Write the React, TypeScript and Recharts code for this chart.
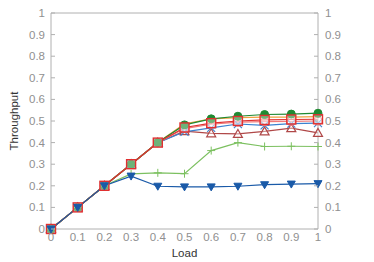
import React from 'react'
import { LineChart, Line, XAxis, YAxis, ReferenceLine } from 'recharts'

const loads = [0, 0.1, 0.2, 0.3, 0.4, 0.5, 0.6, 0.7, 0.8, 0.9, 1]
const yTicks = [0, 0.1, 0.2, 0.3, 0.4, 0.5, 0.6, 0.7, 0.8, 0.9, 1]

const greenCircle = [0, 0.1, 0.2, 0.3, 0.4, 0.482, 0.51, 0.522, 0.53, 0.532, 0.536]
const orangeLine = [0, 0.1, 0.2, 0.3, 0.4, 0.487, 0.51, 0.516, 0.518, 0.518, 0.52]
const redSquare = [0, 0.1, 0.2, 0.3, 0.4, 0.47, 0.49, 0.5, 0.505, 0.507, 0.508]
const pinkCircle = [0, 0.1, 0.2, 0.3, 0.4, 0.465, 0.485, 0.495, 0.497, 0.498, 0.5]
const blueStar = [0, 0.1, 0.2, 0.3, 0.4, 0.45, 0.468, 0.486, 0.48, 0.488, 0.49]
const brownTriangle = [0, 0.1, 0.2, 0.3, 0.4, 0.453, 0.443, 0.44, 0.452, 0.467, 0.445]
const greenPlus = [0, 0.1, 0.2, 0.255, 0.26, 0.256, 0.363, 0.4, 0.382, 0.383, 0.382]
const navyTriangle = [0, 0.1, 0.2, 0.245, 0.198, 0.195, 0.195, 0.198, 0.205, 0.208, 0.21]

const data = loads.map((load, i) => ({
  load,
  greenCircle: greenCircle[i],
  orangeLine: orangeLine[i],
  redSquare: redSquare[i],
  pinkCircle: pinkCircle[i],
  blueStar: blueStar[i],
  brownTriangle: brownTriangle[i],
  greenPlus: greenPlus[i],
  navyTriangle: navyTriangle[i]
}))

const FONT = '"Liberation Sans", Arial, sans-serif'
const AXIS = '#b0b0b0'
const TICK = '#909090'

type Shape = 'circle' | 'openCircle' | 'square' | 'star' | 'triangle' | 'plus' | 'down' | 'none'

function makeDot(shape: Shape, color: string) {
  return (p: any) => {
    const { cx, cy, key } = p
    if (cx == null || cy == null) return <g key={key} />
    switch (shape) {
      case 'circle':
        return <circle key={key} cx={cx} cy={cy} r={4} fill={color} stroke={color} />
      case 'openCircle':
        return <circle key={key} cx={cx} cy={cy} r={4} fill="#fff" fillOpacity={0.3} stroke={color} strokeWidth={1.2} />
      case 'square':
        return <rect key={key} x={cx - 4.5} y={cy - 4.5} width={9} height={9} fill="#fff" fillOpacity={0.35} stroke={color} strokeWidth={1.4} />
      case 'star':
        return (
          <g key={key} stroke={color} strokeWidth={1.1}>
            <line x1={cx - 4} y1={cy - 4} x2={cx + 4} y2={cy + 4} />
            <line x1={cx - 4} y1={cy + 4} x2={cx + 4} y2={cy - 4} />
            <line x1={cx - 4.5} y1={cy} x2={cx + 4.5} y2={cy} />
          </g>
        )
      case 'triangle':
        return <polygon key={key} points={`${cx},${cy - 4.5} ${cx - 4.5},${cy + 3.5} ${cx + 4.5},${cy + 3.5}`} fill="#fff" fillOpacity={0.4} stroke={color} strokeWidth={1.2} />
      case 'plus':
        return (
          <g key={key} stroke={color} strokeWidth={1}>
            <line x1={cx - 4} y1={cy} x2={cx + 4} y2={cy} />
            <line x1={cx} y1={cy - 4} x2={cx} y2={cy + 4} />
          </g>
        )
      case 'down':
        return <polygon key={key} points={`${cx},${cy + 4} ${cx - 4},${cy - 3} ${cx + 4},${cy - 3}`} fill={color} stroke={color} />
      default:
        return <g key={key} />
    }
  }
}

const fmt = (v: number) => (v === 0 || v === 1 ? String(v) : v.toFixed(1))

function LeftTick(props: any) {
  const { x, y, payload } = props
  return (
    <g>
      <line x1={x} y1={y} x2={x + 4} y2={y} stroke={AXIS} />
      <text x={x - 6} y={y} dy={4} textAnchor="end" fill={TICK} fontSize={11.5} fontFamily={FONT}>
        {fmt(payload.value)}
      </text>
    </g>
  )
}

function RightTick(props: any) {
  const { x, y, payload } = props
  return (
    <g>
      <line x1={x} y1={y} x2={x - 4} y2={y} stroke={AXIS} />
      <text x={x + 7} y={y} dy={4} textAnchor="start" fill={TICK} fontSize={11.5} fontFamily={FONT}>
        {fmt(payload.value)}
      </text>
    </g>
  )
}

function YLabel(props: any) {
  const vb = props.viewBox || { x: 0, y: 0, height: 0 }
  const cx = vb.x + 14
  const cy = vb.y + vb.height / 2
  return (
    <text x={cx} y={cy} transform={`rotate(-90, ${cx}, ${cy})`} textAnchor="middle" dy={4} fill="#333" fontSize={11.5} fontFamily={FONT}>
      Throughput
    </text>
  )
}

const series: { key: string; color: string; shape: Shape; axis: string }[] = [
  { key: 'brownTriangle', color: '#b04848', shape: 'triangle', axis: 'left' },
  { key: 'blueStar', color: '#3a82d0', shape: 'star', axis: 'left' },
  { key: 'pinkCircle', color: '#f07878', shape: 'openCircle', axis: 'left' },
  { key: 'orangeLine', color: '#f0a040', shape: 'none', axis: 'right' },
  { key: 'greenCircle', color: '#1f8a32', shape: 'circle', axis: 'left' },
  { key: 'greenPlus', color: '#7cc060', shape: 'plus', axis: 'left' },
  { key: 'redSquare', color: '#e03030', shape: 'square', axis: 'left' },
  { key: 'navyTriangle', color: '#1a5aa8', shape: 'down', axis: 'left' }
]

export default function App() {
  return (
    <div style={{ position: 'absolute', left: 0, top: 0, width: 374, height: 262, background: '#fff' }}>
      <LineChart width={374} height={262} data={data} margin={{ top: 13, right: 0, bottom: 0, left: 0 }}>
        <XAxis
          dataKey="load"
          type="number"
          domain={[0, 1]}
          ticks={loads}
          interval={0}
          tickFormatter={fmt}
          height={33}
          tickSize={0}
          tickMargin={4}
          stroke={AXIS}
          tick={{ fill: TICK, fontSize: 11.5, fontFamily: FONT }}
          label={{ value: 'Load', position: 'insideBottom', offset: 5, fill: '#333', fontSize: 11.5, fontFamily: FONT }}
        />
        <YAxis
          yAxisId="left"
          type="number"
          domain={[0, 1]}
          ticks={yTicks}
          interval={0}
          width={51}
          tickSize={0}
          tickMargin={0}
          stroke={AXIS}
          tick={<LeftTick />}
          label={<YLabel />}
        />
        <YAxis
          yAxisId="right"
          orientation="right"
          type="number"
          domain={[0, 1]}
          ticks={yTicks}
          interval={0}
          width={56}
          tickSize={0}
          tickMargin={0}
          stroke={AXIS}
          tick={<RightTick />}
        />
        <ReferenceLine yAxisId="left" y={1} stroke={AXIS} />
        {series.map((s) => (
          <Line
            key={s.key}
            yAxisId={s.axis}
            type="linear"
            dataKey={s.key}
            stroke={s.color}
            strokeWidth={1.2}
            dot={makeDot(s.shape, s.color)}
            activeDot={false}
            isAnimationActive={false}
          />
        ))}
      </LineChart>
    </div>
  )
}
